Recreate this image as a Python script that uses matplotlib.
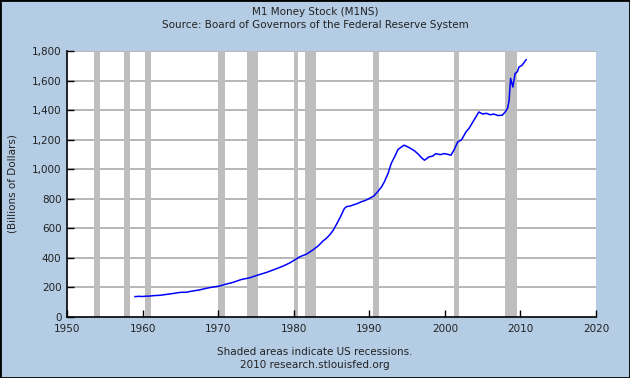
import matplotlib
matplotlib.use("Agg")
import matplotlib.pyplot as plt
from matplotlib.patches import Rectangle
from matplotlib.ticker import FuncFormatter

# Data (year, billions of dollars)
years = [1959.0, 1959.5, 1960.0, 1960.5, 1961.0, 1961.5, 1962.3, 1963.0, 1964.0, 1965.0,
         1965.8, 1966.5, 1967.5, 1968.4, 1969.2, 1970.2, 1971.0, 1972.0, 1973.0, 1974.2,
         1975.0, 1976.4, 1977.5, 1978.6, 1979.5, 1980.1, 1980.8, 1981.7, 1982.5, 1983.2,
         1983.9, 1984.3, 1984.74, 1985.2, 1985.6, 1986.2, 1986.7, 1987.0, 1987.5, 1987.8,
         1988.4, 1988.9, 1989.5, 1990.0, 1990.6, 1991.1, 1991.6, 1992.0, 1992.5, 1992.9,
         1993.4, 1993.8, 1994.2, 1994.6, 1995.0, 1995.5, 1996.0, 1996.4, 1996.9, 1997.3,
         1997.9, 1998.4, 1998.8, 1999.4, 1999.9, 2000.4, 2000.8, 2001.2, 2001.7, 2002.2,
         2002.8, 2003.2, 2003.7, 2004.1, 2004.5, 2005.0, 2005.5, 2006.0, 2006.5, 2007.0,
         2007.6, 2008.0, 2008.3, 2008.5, 2008.7, 2009.0, 2009.3, 2009.6, 2009.8, 2010.2,
         2010.5, 2010.75]
m1 = [138, 140, 139, 141, 142, 145, 147, 152, 159, 167,
      168, 175, 183, 194, 202, 210, 222, 235, 253, 266,
      280, 302, 323, 345, 367, 386, 408, 426, 453, 480,
      516, 532, 555, 585, 622, 680, 735, 748, 752, 758,
      768, 780, 790, 803, 820, 848, 880, 916, 975, 1040,
      1090, 1135, 1150, 1164, 1155, 1141, 1125, 1107, 1080, 1062,
      1085, 1090, 1107, 1100, 1107, 1102, 1096, 1130, 1186, 1200,
      1254, 1278, 1321, 1355, 1389, 1375, 1380, 1370, 1375, 1365,
      1367, 1390, 1414, 1468, 1617, 1558, 1650, 1662, 1693, 1705,
      1725, 1743]

recession_start = [1953.55, 1957.6, 1960.3, 1969.95, 1973.85, 1980.0, 1981.5, 1990.55, 2001.2, 2007.9]
recession_end = [1954.4, 1958.35, 1961.15, 1970.9, 1975.25, 1980.55, 1982.9, 1991.25, 2001.9, 2009.5]

x_ticks = [1950, 1960, 1970, 1980, 1990, 2000, 2010, 2020]
y_ticks = [0, 200, 400, 600, 800, 1000, 1200, 1400, 1600, 1800]

title_line1 = "M1 Money Stock (M1NS)"
title_line2 = "Source: Board of Governors of the Federal Reserve System"
ylabel = "(Billions of Dollars)"
note1 = "Shaded areas indicate US recessions."
note2 = "2010 research.stlouisfed.org"

bg = "#B4CCE4"
W, H = 630, 378
fig = plt.figure(figsize=(W / 100, H / 100), dpi=100, facecolor=bg)
ax = fig.add_axes([67 / W, 1 - 317 / H, (596 - 67) / W, (317 - 51.3) / H])
ax.set_facecolor("white")

for s, e in zip(recession_start, recession_end):
    ax.axvspan(s, e, color="#BEBEBE", lw=0, zorder=1)

for yv in y_ticks[1:]:
    ax.axhline(yv, color="#AAAAAA", lw=1.2, zorder=0.5)

ax.plot(years, m1, color="#0000FF", lw=1.1, zorder=3)

ax.set_xlim(1950, 2020)
ax.set_ylim(0, 1800)
ax.set_xticks(x_ticks)
ax.set_yticks(y_ticks)
ax.yaxis.set_major_formatter(FuncFormatter(lambda v, p: f"{int(v):,}"))
ax.tick_params(axis="both", direction="in", length=5, width=1, color="black",
               labelsize=7.5, labelcolor="#222222", pad=4)
ax.tick_params(axis="x", pad=5)
for side in ["top", "right"]:
    ax.spines[side].set_visible(False)
for side in ["left", "bottom"]:
    ax.spines[side].set_color("black")
    ax.spines[side].set_linewidth(1.2)
    ax.spines[side].set_zorder(5)

txt = dict(color="#222222", fontsize=7.5, ha="center", va="center")
fig.text(0.5, 1 - 12 / H, title_line1, **txt)
fig.text(0.5, 1 - 25.5 / H, title_line2, **txt)
fig.text(0.5, 1 - 352 / H, note1, **txt)
fig.text(0.5, 1 - 365 / H, note2, **txt)
fig.text(13 / W, 1 - 184 / H, ylabel, rotation=90, **txt)

fig.patches.append(Rectangle((0, 0), 1, 1, transform=fig.transFigure,
                             fill=False, edgecolor="black", lw=2, zorder=10))

fig.savefig("out.png", dpi=100, facecolor=bg)
